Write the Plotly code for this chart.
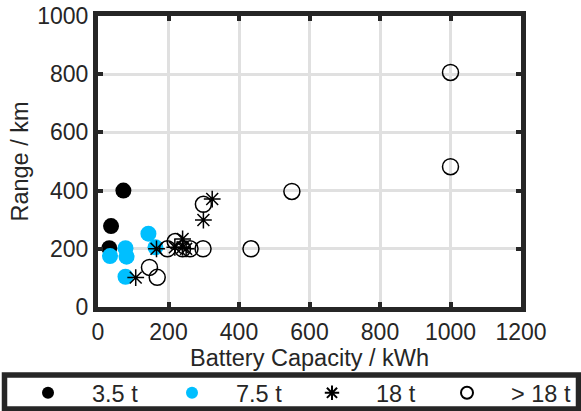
import plotly.graph_objects as go

# Data
x35 = [72, 37, 32]
y35 = [400, 278, 202]
x75 = [143, 34, 78, 81, 78, 163]
y75 = [252, 175, 202, 173, 104, 205]
x18 = [166, 107, 218, 240, 240, 250, 299, 324]
y18 = [200, 101, 205, 205, 234, 200, 299, 371]
xgt = [146, 168, 299, 197, 219, 240, 261, 298, 434, 550, 1000, 1000]
ygt = [136, 102, 353, 200, 225, 200, 200, 200, 200, 397, 806, 482]
names = ["3.5 t", "7.5 t", "18 t", "> 18 t"]
xticks = [0, 200, 400, 600, 800, 1000, 1200]
yticks = [0, 200, 400, 600, 800, 1000]

FONT = "Liberation Sans"
DARK = "#262626"
W, H = 581, 411
L, R, T, B = 98, 60, 16, 104
PW, PH = W - L - R, H - T - B

fig = go.Figure()
fig.add_trace(go.Scatter(x=x35, y=y35, mode="markers", name=names[0], legend="legend",
                         marker=dict(symbol="circle", size=16, color="black", line=dict(width=0))))
fig.add_trace(go.Scatter(x=x75, y=y75, mode="markers", name=names[1], legend="legend2",
                         marker=dict(symbol="circle", size=16, color="#00bfff", line=dict(width=0))))
fig.add_trace(go.Scatter(x=x18, y=y18, mode="markers", name=names[2], legend="legend3",
                         marker=dict(symbol="asterisk-open", size=14, color="black",
                                     line=dict(width=1.5, color="black"))))
fig.add_trace(go.Scatter(x=xgt, y=ygt, mode="markers", name=names[3], legend="legend4",
                         marker=dict(symbol="circle-open", size=16, color="black",
                                     line=dict(width=1.5, color="black"))))

axis_common = dict(
    showline=True, linewidth=5, linecolor=DARK, mirror="ticks",
    ticks="inside", ticklen=5, tickwidth=4, tickcolor=DARK,
    showgrid=True, gridcolor="#e0e0e0", gridwidth=3,
    zeroline=False,
    tickfont=dict(family=FONT, size=23, color=DARK),
)

fig.update_xaxes(range=[0, 1200], tickvals=xticks, ticktext=[str(v) for v in xticks],
                 title=dict(text="Battery Capacity / kWh", font=dict(family=FONT, size=23.5, color=DARK),
                            standoff=2),
                 **axis_common)
fig.update_yaxes(range=[0, 1000], tickvals=yticks, ticktext=[str(v) for v in yticks],
                 title=dict(text="Range / km", font=dict(family=FONT, size=23.5, color=DARK),
                            standoff=4),
                 **axis_common)

# legend frame (pixel positions converted to paper coordinates)
def px_x(p):
    return (p - L) / PW

def px_y(p):
    return (H - B - p) / PH

fig.add_shape(type="rect", xref="paper", yref="paper",
              x0=px_x(4.5), x1=px_x(578.5), y0=px_y(409), y1=px_y(375),
              line=dict(color=DARK, width=5.5), fillcolor="white", layer="below")

marker_px = [48, 192, 332, 467]
leg_common = dict(orientation="h", xref="container", yref="container",
                  xanchor="left", y=1 - 393 / H, yanchor="middle",
                  bgcolor="rgba(0,0,0,0)", borderwidth=0,
                  font=dict(family=FONT, size=23.5, color=DARK),
                  itemwidth=78, itemsizing="constant")
legs = {}
for i, key in enumerate(["legend", "legend2", "legend3", "legend4"]):
    legs[key] = dict(x=(marker_px[i] - 44) / W, **leg_common)

fig.update_layout(
    width=W, height=H,
    margin=dict(l=L, r=R, t=T, b=B, autoexpand=False),
    plot_bgcolor="white", paper_bgcolor="white",
    showlegend=True,
    **legs,
)

fig.write_html("out.html")
